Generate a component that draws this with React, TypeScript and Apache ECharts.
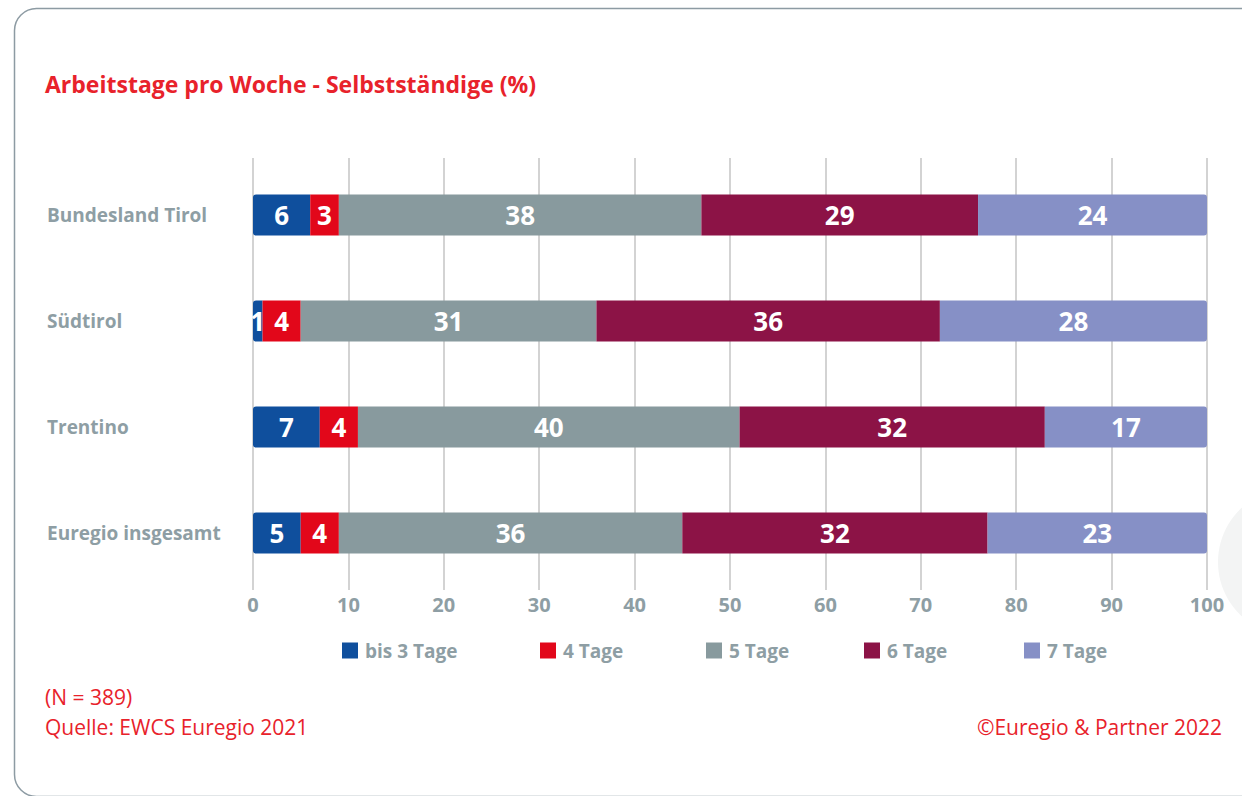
import React, { useEffect, useRef } from "react";
import * as echarts from "echarts";

const categories = ["Bundesland Tirol", "Südtirol", "Trentino", "Euregio insgesamt"];
const seriesNames = ["bis 3 Tage", "4 Tage", "5 Tage", "6 Tage", "7 Tage"];
const bis3Tage = [6, 1, 7, 5];
const vier = [3, 4, 4, 4];
const fuenf = [38, 31, 40, 36];
const sechs = [29, 36, 32, 32];
const sieben = [24, 28, 17, 23];
const seriesValues = [bis3Tage, vier, fuenf, sechs, sieben];
const colors = ["#0f4f9d", "#e2071a", "#889a9e", "#8c1346", "#8690c6"];
const xTicks = [0, 10, 20, 30, 40, 50, 60, 70, 80, 90, 100];

const FONT = "'Open Sans', 'Noto Sans', sans-serif";
const GRAY = "#8e9ea4";
const RED = "#e8222b";

export default function App() {
  const ref = useRef<HTMLDivElement>(null);
  useEffect(() => {
    if (!ref.current) return;
    const chart = echarts.init(ref.current, null, { renderer: "svg" });
    const legendLefts = [337, 535, 701, 859, 1019];
    const n = categories.length;
    const option: any = {
      animation: false,
      backgroundColor: "#ffffff",
      textStyle: { fontFamily: FONT },
      grid: { left: 253, right: 35, top: 162, height: 424, containLabel: false },
      xAxis: [
        {
          type: "value",
          min: xTicks[0],
          max: xTicks[xTicks.length - 1],
          interval: 10,
          position: "bottom",
          axisLine: { show: false },
          axisTick: { show: true, length: 4, lineStyle: { color: "#d3d3d3", width: 2 } },
          splitLine: { show: true, lineStyle: { color: "#d3d3d3", width: 2 } },
          axisLabel: {
            margin: 8,
            color: GRAY,
            fontSize: 20,
            fontWeight: "bold",
            fontFamily: FONT,
          },
        },
        {
          type: "value",
          min: xTicks[0],
          max: xTicks[xTicks.length - 1],
          interval: 10,
          position: "top",
          axisLine: { show: false },
          axisTick: { show: true, length: 4, lineStyle: { color: "#d3d3d3", width: 2 } },
          splitLine: { show: false },
          axisLabel: { show: false },
        },
      ],
      yAxis: {
        type: "category",
        data: categories,
        inverse: true,
        axisLine: { show: false },
        axisTick: { show: false },
        axisLabel: {
          align: "left",
          margin: 206,
          color: GRAY,
          fontSize: 19,
          fontWeight: "bold",
          fontFamily: FONT,
          verticalAlign: "middle",
          lineHeight: 24,
          padding: [0, 0, 4, 0],
        },
      },
      legend: seriesNames.map((name, i) => ({
        data: [name],
        left: legendLefts[i],
        top: 636,
        itemWidth: 16,
        itemHeight: 16,
        itemGap: 10,
        icon: "rect",
        textStyle: { color: GRAY, fontSize: 19, fontWeight: "bold", fontFamily: FONT, padding: [0, 0, 0, 2] },
      })),
      series: seriesNames.map((name, si) => ({
        name,
        type: "bar",
        stack: "total",
        barWidth: 41,
        xAxisIndex: 0,
        itemStyle: {
          color: colors[si],
          borderRadius:
            si === 0 ? [3, 0, 0, 3] : si === seriesNames.length - 1 ? [0, 3, 3, 0] : 0,
        },
        label: {
          show: true,
          position: "inside",
          color: "#ffffff",
          fontSize: 26,
          fontWeight: "bold",
          fontFamily: FONT,
        },
        data: seriesValues[si].slice(0, n),
      })),
      graphic: [
        {
          type: "circle",
          shape: { cx: 1292, cy: 562, r: 74 },
          style: { fill: "#f3f4f4" },
          z: -10,
          silent: true,
        },
        {
          type: "rect",
          shape: { x: 14.5, y: 8.5, width: 1400, height: 788, r: 22 },
          style: { fill: "none", stroke: "#8d9ba3", lineWidth: 1.5 },
          z: -5,
          silent: true,
        },
        {
          type: "text",
          left: 45,
          top: 72,
          style: {
            text: "Arbeitstage pro Woche - Selbstständige (%)",
            fill: RED,
            font: `bold 23px ${FONT}`,
          },
        },
        {
          type: "text",
          left: 45,
          top: 686,
          style: { text: "(N = 389)", fill: RED, font: `21px ${FONT}` },
        },
        {
          type: "text",
          left: 45,
          top: 716,
          style: { text: "Quelle: EWCS Euregio 2021", fill: RED, font: `21px ${FONT}` },
        },
        {
          type: "text",
          right: 20,
          top: 716,
          style: { text: "©Euregio & Partner 2022", fill: RED, font: `21px ${FONT}` },
        },
      ],
    };
    chart.setOption(option);
    return () => chart.dispose();
  }, []);
  return (
    <div
      ref={ref}
      style={{ position: "fixed", left: 0, top: 0, width: 1242, height: 796 }}
    />
  );
}
